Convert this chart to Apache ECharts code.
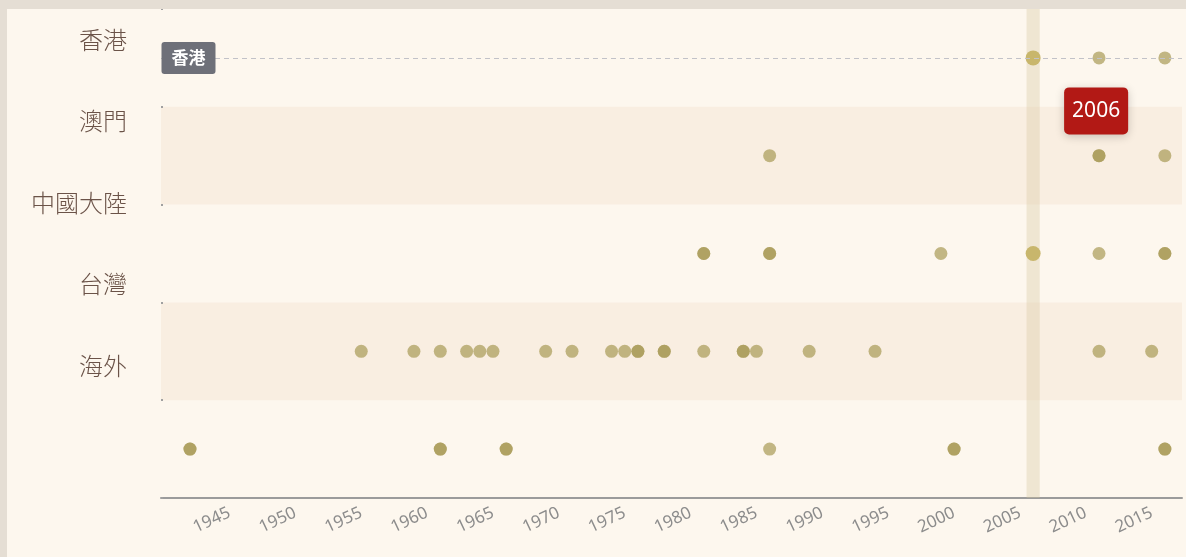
<!DOCTYPE html>
<html>
<head>
<meta charset="utf-8">
<script src="https://cdn.jsdelivr.net/npm/echarts@6/dist/echarts.min.js"></script>
<style>
html, body { margin: 0; padding: 0; overflow: hidden; background: #e5ded4; width: 1186px; height: 557px; }
#chart { position: absolute; left: 7px; top: 9px; width: 1179px; height: 548px; }
</style>
</head>
<body>
<div id="chart"></div>
<script>
// ---- data ----
const regions = ['香港', '澳門', '中國大陸', '台灣', '海外'];
const labelRows = ['香港', '澳門', '中國大陸', '台灣', '海外', ''];
const hongKongYears = [2006, 2011, 2016];
const macauYears = [1986, 2011, 2011, 2016];
const mainlandYears = [1981, 1981, 1986, 1986, 1999, 2006, 2011, 2016, 2016];
const taiwanYears = [1955, 1959, 1961, 1963, 1964, 1965, 1969, 1971, 1974, 1975, 1976, 1976,
  1978, 1978, 1981, 1984, 1984, 1985, 1989, 1994, 2011, 2015];
const overseasYears = [1942, 1942, 1961, 1961, 1966, 1966, 1986, 2000, 2000, 2016, 2016];
const yearTicks = [1945, 1950, 1955, 1960, 1965, 1970, 1975, 1980, 1985, 1990, 1995, 2000, 2005, 2010, 2015];
const xMin = 1939.8;
const xMax = 2017.3;
const focusYear = 2006;
const focusRow = '香港';

const yearsByRegion = [hongKongYears, macauYears, mainlandYears, taiwanYears, overseasYears];

const points = [];
yearsByRegion.forEach(function (years, r) {
  years.forEach(function (y) {
    if (y === focusYear) {
      points.push({ value: [y, regions[r]], symbolSize: 15, itemStyle: { color: '#c8b66c', opacity: 1 } });
    } else {
      points.push([y, regions[r]]);
    }
  });
});

const chart = echarts.init(document.getElementById('chart'));
chart.setOption({
  backgroundColor: '#fdf7ee',
  animation: false,
  textStyle: { fontFamily: "'Noto Sans', 'Noto Sans CJK TC', sans-serif" },
  grid: { left: 154, right: 4, top: 0, bottom: 59, containLabel: false },
  xAxis: {
    type: 'value',
    min: xMin,
    max: xMax,
    splitLine: { show: false },
    axisLine: { show: true, lineStyle: { color: '#9b9b9b', width: 2 } },
    axisTick: { show: false },
    axisLabel: {
      customValues: yearTicks,
      formatter: function (v) { return String(Math.round(v)); },
      rotate: 25,
      color: '#8c8c8c',
      fontSize: 17,
      margin: 14
    }
  },
  yAxis: [
    {
      type: 'category',
      data: regions,
      inverse: true,
      position: 'left',
      boundaryGap: true,
      axisLine: { show: false },
      axisTick: { show: true, inside: true, length: 2, lineStyle: { color: '#a0a0a0', width: 2 } },
      axisLabel: { show: false },
      splitLine: { show: false },
      splitArea: { show: true, areaStyle: { color: ['rgba(0,0,0,0)', '#f9eee1'] } }
    },
    {
      type: 'category',
      data: labelRows,
      inverse: true,
      position: 'left',
      boundaryGap: true,
      axisLine: { show: false },
      axisTick: { show: false },
      splitLine: { show: false },
      splitArea: { show: false },
      axisLabel: {
        color: '#6b5348',
        fontSize: 24,
        fontWeight: 300,
        margin: 34,
        lineHeight: 20,
        verticalAlign: 'bottom',
        fontFamily: "'Noto Sans CJK TC', sans-serif"
      }
    }
  ],
  series: [
    {
      type: 'scatter',
      data: [],
      z: 1,
      silent: true,
      markArea: {
        silent: true,
        itemStyle: { color: 'rgba(214,196,156,0.33)' },
        data: [[{ xAxis: focusYear - 0.5 }, { xAxis: focusYear + 0.5 }]]
      },
      markLine: {
        silent: true,
        symbol: 'none',
        label: { show: false },
        lineStyle: { color: '#c2c2c8', type: [5, 4], width: 1 },
        data: [{ yAxis: regions.indexOf(focusRow) }]
      }
    },
    {
      type: 'scatter',
      z: 3,
      symbolSize: 13,
      itemStyle: { color: '#a89a55', opacity: 0.7 },
      data: points
    },
    {
      type: 'scatter',
      data: [],
      z: 10,
      silent: true,
      markPoint: {
        silent: true,
        symbol: 'circle',
        symbolSize: 1,
        itemStyle: { color: 'rgba(0,0,0,0)' },
        data: [
          {
            coord: [xMin, regions.indexOf(focusRow)],
            label: {
              show: true,
              position: 'right',
              distance: 0,
              formatter: focusRow,
              backgroundColor: '#6E7079',
              color: '#ffffff',
              fontSize: 17,
              fontWeight: 'bold',
              lineHeight: 16,
              padding: [8, 10],
              borderRadius: 3,
              fontFamily: "'Noto Sans CJK TC', sans-serif"
            }
          },
          {
            coord: [focusYear, regions.indexOf(focusRow)],
            label: {
              show: true,
              position: 'inside',
              offset: [63, 53],
              formatter: String(focusYear),
              backgroundColor: '#b21915',
              color: '#ffffff',
              fontSize: 21,
              padding: [13, 8],
              borderRadius: 5,
              shadowBlur: 10,
              shadowColor: 'rgba(0,0,0,0.2)',
              shadowOffsetY: 2,
              fontFamily: "'Noto Sans', sans-serif"
            }
          }
        ]
      }
    }
  ]
});
</script>
</body>
</html>
